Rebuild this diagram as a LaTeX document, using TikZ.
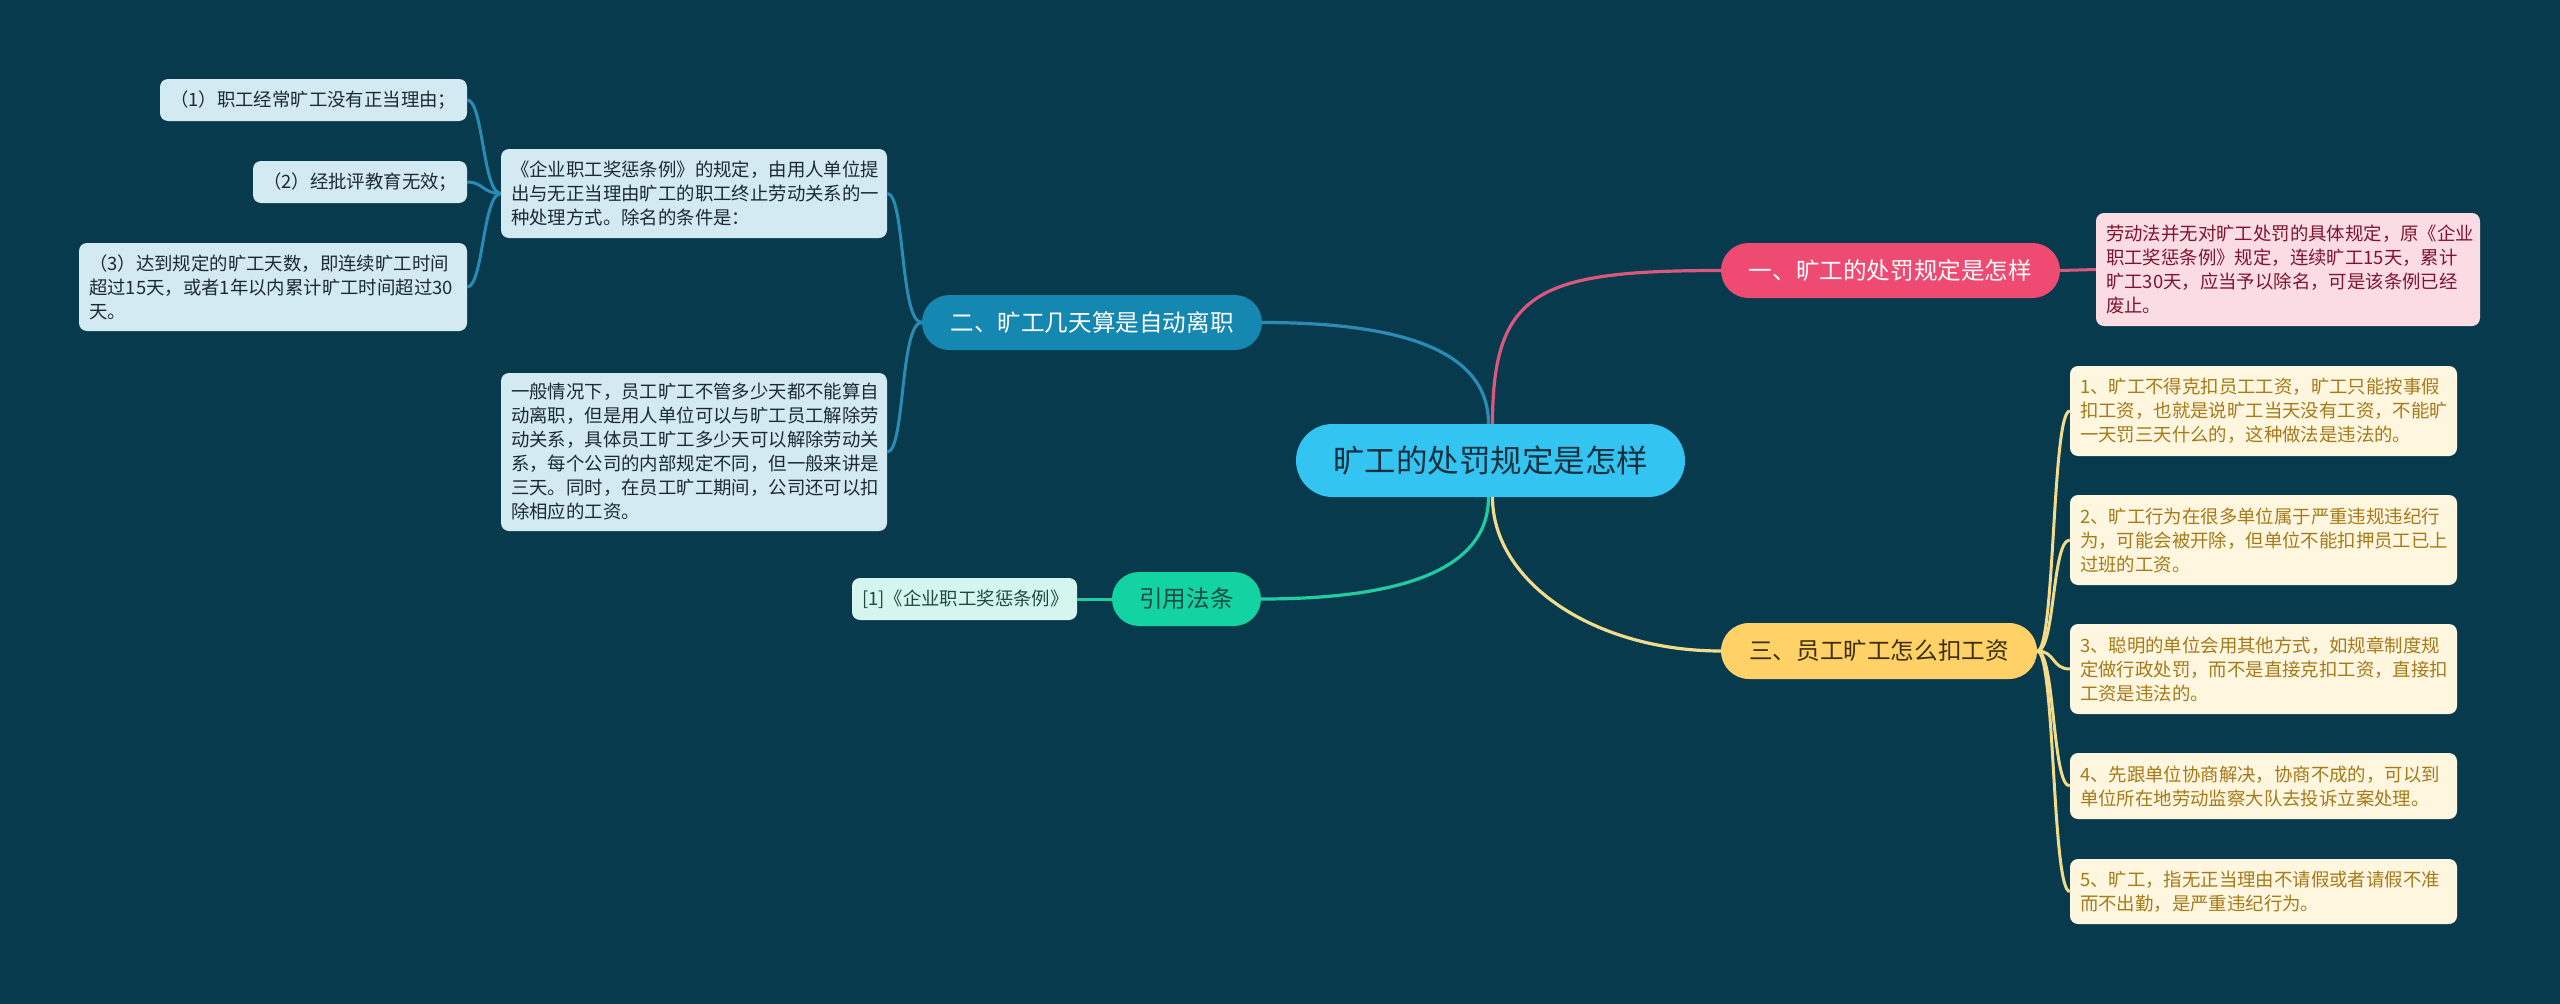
\documentclass[tikz,border=0pt]{standalone}
\usepackage{fontspec}
\setmainfont{Noto Sans CJK SC}
\usetikzlibrary{shapes.misc}
\definecolor{bg}{HTML}{083A4D}
\definecolor{ccenter}{HTML}{33C4F2}
\definecolor{ccentertxt}{HTML}{17303D}
\definecolor{cpink}{HTML}{EE4A72}
\definecolor{cpinkline}{HTML}{DA587D}
\definecolor{cpinkbox}{HTML}{FCDCE3}
\definecolor{cpinktxt}{HTML}{7D1530}
\definecolor{cblue}{HTML}{1488B0}
\definecolor{cblueline}{HTML}{2A8CB5}
\definecolor{cbluebox}{HTML}{D3EAF2}
\definecolor{cbluetxt}{HTML}{1C2B33}
\definecolor{cgreen}{HTML}{12D3A1}
\definecolor{cgreenline}{HTML}{20CDA0}
\definecolor{cgreenbox}{HTML}{D5F6EF}
\definecolor{cgreentxt}{HTML}{1D4B43}
\definecolor{cyel}{HTML}{FFD166}
\definecolor{cyelline}{HTML}{F2DB8A}
\definecolor{cyelbox}{HTML}{FEF6DF}
\definecolor{cyeltxt}{HTML}{A57A1A}
\definecolor{cyelntxt}{HTML}{3B2F10}
\begin{document}
\begin{tikzpicture}[x=1pt,y=-1pt,
  pill/.style={rounded rectangle, inner sep=0pt},
  brfont/.style={font=\fontsize{23.6}{28}\selectfont},
  infobox/.style={rounded corners=8pt, inner xsep=10pt, inner ysep=0pt, align=left,
    font=\fontsize{18.4}{24}\selectfont},
  mainline/.style={line width=3.2pt},
  subline/.style={line width=3pt}]
\fill[bg] (0,0) rectangle (2560,1004);
\useasboundingbox (0,0) rectangle (2560,1004);

% central node
\node[pill, fill=ccenter, text=ccentertxt, minimum width=389pt, minimum height=73pt,
  font=\fontsize{31.5}{36}\selectfont] (c) at (1490.5,460.5) {旷工的处罚规定是怎样};

% branch nodes
\node[pill, brfont, fill=cpink, text=white, minimum width=339pt, minimum height=55pt] (b1) at (1890.5,270.5) {一、旷工的处罚规定是怎样};
\node[pill, brfont, fill=cblue, text=white, minimum width=340pt, minimum height=55pt] (b2) at (1092,322.5) {二、旷工几天算是自动离职};
\node[pill, brfont, fill=cgreen, text=cgreentxt, minimum width=149pt, minimum height=54pt] (b3) at (1186.5,599) {引用法条};
\node[pill, brfont, fill=cyel, text=cyelntxt, minimum width=316pt, minimum height=56pt] (b4) at (1879,651) {三、员工旷工怎么扣工资};

% pink detail
\node[infobox, fill=cpinkbox, text=cpinktxt, text width=364pt, minimum height=113pt] (p1) at (2288,269.5)
{劳动法并无对旷工处罚的具体规定，原《企业\\职工奖惩条例》规定，连续旷工15天，累计\\旷工30天，应当予以除名，可是该条例已经\\废止。};

% blue details
\node[infobox, fill=cbluebox, text=cbluetxt, text width=366pt, minimum height=89pt] (l1) at (694,193.5)
{《企业职工奖惩条例》的规定，由用人单位提\\出与无正当理由旷工的职工终止劳动关系的一\\种处理方式。除名的条件是：};
\node[infobox, fill=cbluebox, text=cbluetxt, text width=366pt, minimum height=158pt] (l2) at (694,452)
{一般情况下，员工旷工不管多少天都不能算自\\动离职，但是用人单位可以与旷工员工解除劳\\动关系，具体员工旷工多少天可以解除劳动关\\系，每个公司的内部规定不同，但一般来讲是\\三天。同时，在员工旷工期间，公司还可以扣\\除相应的工资。};
\node[infobox, fill=cbluebox, text=cbluetxt, text width=287pt, minimum height=42pt] (s1) at (313.5,100)
{（1）职工经常旷工没有正当理由；};
\node[infobox, fill=cbluebox, text=cbluetxt, text width=194pt, minimum height=42pt] (s2) at (360,182)
{（2）经批评教育无效；};
\node[infobox, fill=cbluebox, text=cbluetxt, text width=368pt, minimum height=88pt] (s3) at (273,287)
{（3）达到规定的旷工天数，即连续旷工时间\\超过15天，或者1年以内累计旷工时间超过30\\天。};

% green detail
\node[infobox, fill=cgreenbox, text=cgreentxt, text width=205pt, minimum height=42pt] (g1) at (964.5,599)
{[1]《企业职工奖惩条例》};

% yellow details
\node[infobox, fill=cyelbox, text=cyeltxt, text width=367pt, minimum height=90pt] (y1) at (2263.5,411)
{1、旷工不得克扣员工工资，旷工只能按事假\\扣工资，也就是说旷工当天没有工资，不能旷\\一天罚三天什么的，这种做法是违法的。};
\node[infobox, fill=cyelbox, text=cyeltxt, text width=367pt, minimum height=90pt] (y2) at (2263.5,540)
{2、旷工行为在很多单位属于严重违规违纪行\\为，可能会被开除，但单位不能扣押员工已上\\过班的工资。};
\node[infobox, fill=cyelbox, text=cyeltxt, text width=367pt, minimum height=90pt] (y3) at (2263.5,669)
{3、聪明的单位会用其他方式，如规章制度规\\定做行政处罚，而不是直接克扣工资，直接扣\\工资是违法的。};
\node[infobox, fill=cyelbox, text=cyeltxt, text width=367pt, minimum height=66pt] (y4) at (2263.5,786)
{4、先跟单位协商解决，协商不成的，可以到\\单位所在地劳动监察大队去投诉立案处理。};
\node[infobox, fill=cyelbox, text=cyeltxt, text width=367pt, minimum height=65pt] (y5) at (2263.5,891.5)
{5、旷工，指无正当理由不请假或者请假不准\\而不出勤，是严重违纪行为。};

% main connectors
\begin{scope}[on background layer/.style={}]
\draw[mainline, cpinkline] ([xshift=2pt]c.north) .. controls +(0,-134) and +(-181,0) .. (b1.west);
\draw[mainline, cblueline] ([xshift=-2pt]c.north) .. controls +(0,-74) and +(138,0) .. (b2.east);
\draw[mainline, cgreenline] ([xshift=-2pt]c.south) .. controls +(0,73) and +(139,0) .. (b3.east);
\draw[mainline, cyelline] ([xshift=2pt]c.south) .. controls +(0,85) and +(-126,0) .. (b4.west);
\end{scope}

% sub connectors
\draw[subline, cpinkline] (b1.east) -- (p1.west);
\draw[subline, cgreenline] (b3.west) -- (g1.east);
\draw[subline, cblueline] (b2.west) .. controls +(-22,0) and +(18,0) .. (l1.east);
\draw[subline, cblueline] (b2.west) .. controls +(-22,0) and +(18,0) .. (l2.east);
\foreach \n in {s1,s2,s3}
  \draw[subline, cblueline] (l1.west) .. controls +(-18,0) and +(16,0) .. (\n.east);
\foreach \n in {y1,y2,y3,y4,y5}
  \draw[subline, cyelline] (b4.east) .. controls +(18,0) and +(-18,0) .. (\n.west);

% redraw nodes on top of connector ends
\end{tikzpicture}
\end{document}
